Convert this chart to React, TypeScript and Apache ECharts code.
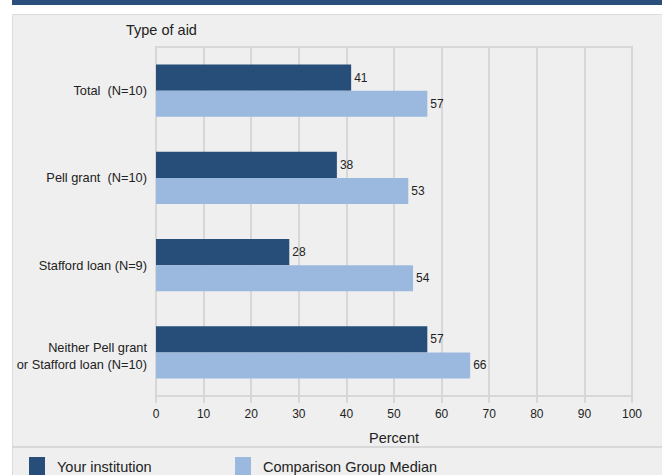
import React, { useEffect, useRef } from "react";
import * as echarts from "echarts";

const categories = [
  "Total  (N=10)",
  "Pell grant  (N=10)",
  "Stafford loan (N=9)",
  "Neither Pell grant\nor Stafford loan (N=10)",
];
const yourInstitution = [41, 38, 28, 57];
const comparisonMedian = [57, 53, 54, 66];
const seriesNames = ["Your institution", "Comparison Group Median"];

const DARK = "#264e79";
const LIGHT = "#9bb9de";
const GRIDC = "#d7d7d7";
const TEXT = "#222222";
const FONT = "'Liberation Sans', Arial, sans-serif";

export default function App() {
  const ref = useRef<HTMLDivElement>(null);
  useEffect(() => {
    if (!ref.current) return;
    const chart = echarts.init(ref.current, undefined, { renderer: "svg" });
    const legendBase = {
      top: 457,
      padding: 0,
      icon: "rect",
      itemWidth: 16,
      itemHeight: 20,
      selectedMode: false,
      textStyle: {
        fontFamily: FONT,
        fontSize: 14.5,
        color: TEXT,
        padding: [0, 0, 0, 7],
      },
    };
    chart.setOption({
      animation: false,
      textStyle: { fontFamily: FONT, color: TEXT },
      title: {
        text: "Type of aid",
        left: 126,
        top: 22,
        padding: 0,
        textStyle: { fontFamily: FONT, fontSize: 14.5, fontWeight: "normal", color: TEXT },
      },
      graphic: [
        { type: "rect", z: -10, shape: { x: 12, y: 0, width: 650, height: 5 }, style: { fill: "#2a4f7a" } },
        {
          type: "rect",
          z: -10,
          shape: { x: 12.5, y: 14.5, width: 660, height: 470 },
          style: { fill: "#efefef", stroke: "#dcdcdc", lineWidth: 1 },
        },
        {
          type: "line",
          z: -9,
          shape: { x1: 12, y1: 447, x2: 662, y2: 447 },
          style: { stroke: "#d8d8d8", lineWidth: 2 },
        },
      ],
      legend: [
        { ...legendBase, left: 29, data: [seriesNames[0]] },
        { ...legendBase, left: 235, data: [seriesNames[1]] },
      ],
      grid: {
        left: 156,
        top: 47,
        right: 30,
        bottom: 79,
        show: true,
        borderColor: GRIDC,
        borderWidth: 2,
        backgroundColor: "transparent",
      },
      xAxis: {
        type: "value",
        min: 0,
        max: 100,
        interval: 10,
        name: "Percent",
        nameLocation: "middle",
        nameGap: 34,
        nameTextStyle: { fontFamily: FONT, fontSize: 14.5, color: TEXT },
        axisLine: { show: true, lineStyle: { color: GRIDC, width: 2 } },
        axisTick: { show: true, length: 7, lineStyle: { color: GRIDC, width: 2 } },
        splitLine: { show: true, lineStyle: { color: GRIDC, width: 2 } },
        axisLabel: { fontFamily: FONT, fontSize: 12, color: TEXT, margin: 12 },
      },
      yAxis: {
        type: "category",
        inverse: true,
        data: categories,
        axisLine: { show: false },
        axisTick: { show: false },
        splitLine: { show: false },
        axisLabel: {
          fontFamily: FONT,
          fontSize: 12.8,
          color: TEXT,
          margin: 9,
          lineHeight: 17,
          align: "right",
          formatter: (v: string) => (v.indexOf("\n") >= 0 ? "{m|" + v + "}" : v),
          rich: {
            m: {
              fontFamily: FONT,
              fontSize: 12.8,
              color: TEXT,
              lineHeight: 17,
              padding: [8, 0, 0, 0],
              align: "right",
            },
          },
        },
      },
      series: [
        {
          name: seriesNames[0],
          type: "bar",
          data: yourInstitution,
          barGap: "0%",
          barCategoryGap: "40%",
          itemStyle: { color: DARK },
          label: { show: true, position: "right", distance: 3, fontFamily: FONT, fontSize: 12, color: TEXT },
        },
        {
          name: seriesNames[1],
          type: "bar",
          data: comparisonMedian,
          barGap: "0%",
          barCategoryGap: "40%",
          itemStyle: { color: LIGHT },
          label: { show: true, position: "right", distance: 3, fontFamily: FONT, fontSize: 12, color: TEXT },
        },
      ],
    });
    return () => chart.dispose();
  }, []);
  return (
    <div
      ref={ref}
      style={{ position: "absolute", left: 0, top: 0, width: 662, height: 475 }}
    />
  );
}
